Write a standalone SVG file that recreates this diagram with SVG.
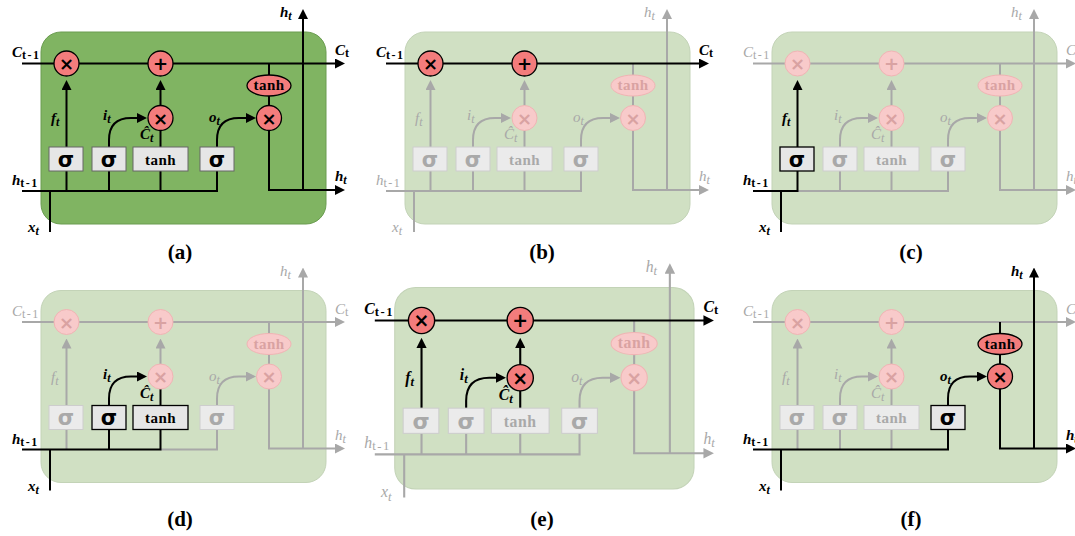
<svg xmlns="http://www.w3.org/2000/svg" width="1075" height="536" viewBox="0 0 1075 536">
<defs>
<marker id="hOn" viewBox="0 0 10 10" refX="1" refY="5" markerWidth="10" markerHeight="10" markerUnits="userSpaceOnUse" orient="auto"><path d="M0,0 L10,5 L0,10 z" fill="#000"/></marker>
<marker id="hOff" viewBox="0 0 10 10" refX="1" refY="5" markerWidth="10" markerHeight="10" markerUnits="userSpaceOnUse" orient="auto"><path d="M0,0 L10,5 L0,10 z" fill="#a8a8a8"/></marker>
</defs>
<style>
.cell.act{fill:#80b462;stroke:#6a9c50;stroke-width:1}
.cell.dim{fill:#d0e0c3;stroke:#c3d3b7;stroke-width:1}
.ln{fill:none;stroke-width:2}
.ln.on{stroke:#000}
.ln.off{stroke:#a8a8a8}
.arr.on{marker-end:url(#hOn)}
.arr.off{marker-end:url(#hOff)}
.op.on circle,.op.on ellipse{fill:#f37c7c;stroke:#000;stroke-width:1.3}
.op.off circle,.op.off ellipse{fill:#f8caca;stroke:#f0b4b4;stroke-width:1}
.op text{font-family:"DejaVu Sans",sans-serif;font-weight:bold;font-size:18px;text-anchor:middle}
.op text.tn{font-family:"Liberation Serif",serif;font-size:15px;letter-spacing:0.5px}
.op.on text{fill:#000}
.op.off text{fill:#d9a2a2}
.bx.on rect{fill:#e6e6e6;stroke:#000;stroke-width:1.3}
#panel-a .bx.on rect{stroke:#666;stroke-width:1}
.bx.off rect{fill:#ebebeb;stroke:#cdcdcd;stroke-width:1}
.bx text{text-anchor:middle;font-weight:bold}
.bx text.sg{font-family:"DejaVu Sans",sans-serif;font-size:21px}
.bx text.tn{font-family:"Liberation Serif",serif;font-size:15px;letter-spacing:0.5px}
.bx.on text{fill:#000}
.bx.off text{fill:#a9a9a9}
.lb{font-family:"Liberation Serif",serif;font-style:italic;font-size:15px}
.lb.on{fill:#000;font-weight:bold}
.lb.off{fill:#a8a8a8}
.s{font-size:12px}
.u{font-style:normal;letter-spacing:1.5px}
.pl{font-family:"Liberation Serif",serif;font-weight:bold;font-size:21px;text-anchor:middle;fill:#000}
</style>
<rect width="1075" height="536" fill="#fff"/>

<!-- ===== Panel (a) ===== -->
<g id="panel-a">
<rect class="cell act" x="41" y="32" width="285" height="192" rx="20"/>
<g id="a-connectors">
<path class="ln on arr" d="M22,63.5 H336"/>
<path class="ln on arr" d="M66.5,147 V89"/>
<path class="ln on arr" d="M109,147 V140 C109,125 116,118 131,118 H138"/>
<path class="ln on" d="M160.5,147 V130.5"/>
<path class="ln on arr" d="M160.5,105.5 V89"/>
<path class="ln on arr" d="M217,147 V140 C217,125 224,118 239,118 H247"/>
<path class="ln on" d="M269,63.5 V75 M269,96 V105.5"/>
<path class="ln on arr" d="M269,130.5 V190 H336"/>
<path class="ln on arr" d="M303,190 V18"/>
<path class="ln on" d="M22,191 H217 V171 M66.5,191 V171 M109,191 V171 M160.5,191 V171 M50,191 V232"/>
</g>
<g id="a-fmul" class="op on"><circle cx="66.5" cy="63.5" r="12.5"/><text x="66.5" y="70">×</text></g>
<g id="a-add" class="op on"><circle cx="160.5" cy="63.5" r="12.5"/><text x="160.5" y="70">+</text></g>
<g id="a-imul" class="op on"><circle cx="160.5" cy="118" r="12.5"/><text x="160.5" y="124.5">×</text></g>
<g id="a-omul" class="op on"><circle cx="269" cy="118" r="12.5"/><text x="269" y="124.5">×</text></g>
<g id="a-ctanh" class="op on"><ellipse cx="269" cy="85.5" rx="22" ry="10.5"/><text class="tn" x="269" y="90">tanh</text></g>
<g id="a-fgate" class="bx on"><rect x="49" y="147" width="34" height="24"/><text class="sg" x="66" y="166.5">σ</text></g>
<g id="a-igate" class="bx on"><rect x="92" y="147" width="34" height="24"/><text class="sg" x="109" y="166.5">σ</text></g>
<g id="a-cand" class="bx on"><rect x="133" y="147" width="55" height="24"/><text class="tn" x="160.5" y="164.5">tanh</text></g>
<g id="a-ogate" class="bx on"><rect x="200" y="147" width="34" height="24"/><text class="sg" x="217" y="166.5">σ</text></g>
<g id="a-labels">
<text class="lb on" x="12" y="57">C<tspan class="s u" dy="2">t-1</tspan></text>
<text class="lb on" x="335" y="55">C<tspan class="s u" dy="2">t</tspan></text>
<text class="lb on" x="280" y="17">h<tspan class="s" dy="3">t</tspan></text>
<text class="lb on" x="335" y="181">h<tspan class="s" dy="3">t</tspan></text>
<text class="lb on" x="12" y="185">h<tspan class="s u" dy="2">t-1</tspan></text>
<text class="lb on" x="28" y="232">x<tspan class="s" dy="3">t</tspan></text>
<text class="lb on" x="51" y="123">f<tspan class="s" dy="3">t</tspan></text>
<text class="lb on" x="103" y="120">i<tspan class="s" dy="3">t</tspan></text>
<text class="lb on" x="140" y="139">Ĉ<tspan class="s" dy="3">t</tspan></text>
<text class="lb on" x="209" y="122">o<tspan class="s" dy="3">t</tspan></text>
</g>
</g>

<!-- ===== Panel (b) ===== -->
<g id="panel-b" transform="translate(364,0)">
<rect class="cell dim" x="41" y="32" width="285" height="192" rx="20"/>
<g id="b-connectors">
<path class="ln off arr" d="M66.5,147 V89"/>
<path class="ln off arr" d="M109,147 V140 C109,125 116,118 131,118 H138"/>
<path class="ln off" d="M160.5,147 V130.5"/>
<path class="ln off arr" d="M160.5,105.5 V89"/>
<path class="ln off arr" d="M217,147 V140 C217,125 224,118 239,118 H247"/>
<path class="ln off" d="M269,63.5 V75 M269,96 V105.5"/>
<path class="ln off arr" d="M269,130.5 V190 H336"/>
<path class="ln off arr" d="M303,190 V18"/>
<path class="ln off" d="M22,191 H217 V171 M66.5,191 V171 M109,191 V171 M160.5,191 V171 M50,191 V232"/>
<path class="ln on arr" d="M22,63.5 H336"/>
</g>
<g id="b-fmul" class="op on"><circle cx="66.5" cy="63.5" r="12.5"/><text x="66.5" y="70">×</text></g>
<g id="b-add" class="op on"><circle cx="160.5" cy="63.5" r="12.5"/><text x="160.5" y="70">+</text></g>
<g id="b-imul" class="op off"><circle cx="160.5" cy="118" r="12.5"/><text x="160.5" y="124.5">×</text></g>
<g id="b-omul" class="op off"><circle cx="269" cy="118" r="12.5"/><text x="269" y="124.5">×</text></g>
<g id="b-ctanh" class="op off"><ellipse cx="269" cy="85.5" rx="22" ry="10.5"/><text class="tn" x="269" y="90">tanh</text></g>
<g id="b-fgate" class="bx off"><rect x="49" y="147" width="34" height="24"/><text class="sg" x="66" y="166.5">σ</text></g>
<g id="b-igate" class="bx off"><rect x="92" y="147" width="34" height="24"/><text class="sg" x="109" y="166.5">σ</text></g>
<g id="b-cand" class="bx off"><rect x="133" y="147" width="55" height="24"/><text class="tn" x="160.5" y="164.5">tanh</text></g>
<g id="b-ogate" class="bx off"><rect x="200" y="147" width="34" height="24"/><text class="sg" x="217" y="166.5">σ</text></g>
<g id="b-labels">
<text class="lb on" x="12" y="57">C<tspan class="s u" dy="2">t-1</tspan></text>
<text class="lb on" x="335" y="55">C<tspan class="s u" dy="2">t</tspan></text>
<text class="lb off" x="280" y="17">h<tspan class="s" dy="3">t</tspan></text>
<text class="lb off" x="335" y="181">h<tspan class="s" dy="3">t</tspan></text>
<text class="lb off" x="12" y="185">h<tspan class="s u" dy="2">t-1</tspan></text>
<text class="lb off" x="28" y="232">x<tspan class="s" dy="3">t</tspan></text>
<text class="lb off" x="51" y="123">f<tspan class="s" dy="3">t</tspan></text>
<text class="lb off" x="103" y="120">i<tspan class="s" dy="3">t</tspan></text>
<text class="lb off" x="140" y="139">Ĉ<tspan class="s" dy="3">t</tspan></text>
<text class="lb off" x="209" y="122">o<tspan class="s" dy="3">t</tspan></text>
</g>
</g>

<!-- ===== Panel (c) ===== -->
<g id="panel-c" transform="translate(731,0)">
<rect class="cell dim" x="41" y="32" width="285" height="192" rx="20"/>
<g id="c-connectors">
<path class="ln off arr" d="M22,63.5 H336"/>
<path class="ln off arr" d="M109,147 V140 C109,125 116,118 131,118 H138"/>
<path class="ln off" d="M160.5,147 V130.5"/>
<path class="ln off arr" d="M160.5,105.5 V89"/>
<path class="ln off arr" d="M217,147 V140 C217,125 224,118 239,118 H247"/>
<path class="ln off" d="M269,63.5 V75 M269,96 V105.5"/>
<path class="ln off arr" d="M269,130.5 V190 H336"/>
<path class="ln off arr" d="M303,190 V18"/>
<path class="ln off" d="M66.5,191 H217 V171 M109,191 V171 M160.5,191 V171"/>
<path class="ln on arr" d="M66.5,147 V89"/>
<path class="ln on" d="M22,191 H66.5 V171 M50,191 V232"/>
</g>
<g id="c-fmul" class="op off"><circle cx="66.5" cy="63.5" r="12.5"/><text x="66.5" y="70">×</text></g>
<g id="c-add" class="op off"><circle cx="160.5" cy="63.5" r="12.5"/><text x="160.5" y="70">+</text></g>
<g id="c-imul" class="op off"><circle cx="160.5" cy="118" r="12.5"/><text x="160.5" y="124.5">×</text></g>
<g id="c-omul" class="op off"><circle cx="269" cy="118" r="12.5"/><text x="269" y="124.5">×</text></g>
<g id="c-ctanh" class="op off"><ellipse cx="269" cy="85.5" rx="22" ry="10.5"/><text class="tn" x="269" y="90">tanh</text></g>
<g id="c-fgate" class="bx on"><rect x="49" y="147" width="34" height="24"/><text class="sg" x="66" y="166.5">σ</text></g>
<g id="c-igate" class="bx off"><rect x="92" y="147" width="34" height="24"/><text class="sg" x="109" y="166.5">σ</text></g>
<g id="c-cand" class="bx off"><rect x="133" y="147" width="55" height="24"/><text class="tn" x="160.5" y="164.5">tanh</text></g>
<g id="c-ogate" class="bx off"><rect x="200" y="147" width="34" height="24"/><text class="sg" x="217" y="166.5">σ</text></g>
<g id="c-labels">
<text class="lb off" x="12" y="57">C<tspan class="s u" dy="2">t-1</tspan></text>
<text class="lb off" x="335" y="55">C<tspan class="s u" dy="2">t</tspan></text>
<text class="lb off" x="280" y="17">h<tspan class="s" dy="3">t</tspan></text>
<text class="lb off" x="335" y="181">h<tspan class="s" dy="3">t</tspan></text>
<text class="lb on" x="12" y="185">h<tspan class="s u" dy="2">t-1</tspan></text>
<text class="lb on" x="28" y="232">x<tspan class="s" dy="3">t</tspan></text>
<text class="lb on" x="51" y="123">f<tspan class="s" dy="3">t</tspan></text>
<text class="lb off" x="103" y="120">i<tspan class="s" dy="3">t</tspan></text>
<text class="lb off" x="140" y="139">Ĉ<tspan class="s" dy="3">t</tspan></text>
<text class="lb off" x="209" y="122">o<tspan class="s" dy="3">t</tspan></text>
</g>
</g>

<!-- ===== Panel (d) ===== -->
<g id="panel-d" transform="translate(0,258.5)">
<rect class="cell dim" x="41" y="32" width="285" height="192" rx="20"/>
<g id="d-connectors">
<path class="ln off arr" d="M22,63.5 H336"/>
<path class="ln off arr" d="M66.5,147 V89"/>
<path class="ln off arr" d="M160.5,105.5 V89"/>
<path class="ln off arr" d="M217,147 V140 C217,125 224,118 239,118 H247"/>
<path class="ln off" d="M269,63.5 V75 M269,96 V105.5"/>
<path class="ln off arr" d="M269,130.5 V190 H336"/>
<path class="ln off arr" d="M303,190 V18"/>
<path class="ln off" d="M160.5,191 H217 V171 M66.5,191 V171"/>
<path class="ln on arr" d="M109,147 V140 C109,125 116,118 131,118 H138"/>
<path class="ln on" d="M160.5,147 V130.5"/>
<path class="ln on" d="M22,191 H160.5 V171 M109,191 V171 M50,191 V232"/>
</g>
<g id="d-fmul" class="op off"><circle cx="66.5" cy="63.5" r="12.5"/><text x="66.5" y="70">×</text></g>
<g id="d-add" class="op off"><circle cx="160.5" cy="63.5" r="12.5"/><text x="160.5" y="70">+</text></g>
<g id="d-imul" class="op off"><circle cx="160.5" cy="118" r="12.5"/><text x="160.5" y="124.5">×</text></g>
<g id="d-omul" class="op off"><circle cx="269" cy="118" r="12.5"/><text x="269" y="124.5">×</text></g>
<g id="d-ctanh" class="op off"><ellipse cx="269" cy="85.5" rx="22" ry="10.5"/><text class="tn" x="269" y="90">tanh</text></g>
<g id="d-fgate" class="bx off"><rect x="49" y="147" width="34" height="24"/><text class="sg" x="66" y="166.5">σ</text></g>
<g id="d-igate" class="bx on"><rect x="92" y="147" width="34" height="24"/><text class="sg" x="109" y="166.5">σ</text></g>
<g id="d-cand" class="bx on"><rect x="133" y="147" width="55" height="24"/><text class="tn" x="160.5" y="164.5">tanh</text></g>
<g id="d-ogate" class="bx off"><rect x="200" y="147" width="34" height="24"/><text class="sg" x="217" y="166.5">σ</text></g>
<g id="d-labels">
<text class="lb off" x="12" y="57">C<tspan class="s u" dy="2">t-1</tspan></text>
<text class="lb off" x="335" y="55">C<tspan class="s u" dy="2">t</tspan></text>
<text class="lb off" x="280" y="17">h<tspan class="s" dy="3">t</tspan></text>
<text class="lb off" x="335" y="181">h<tspan class="s" dy="3">t</tspan></text>
<text class="lb on" x="12" y="185">h<tspan class="s u" dy="2">t-1</tspan></text>
<text class="lb on" x="28" y="232">x<tspan class="s" dy="3">t</tspan></text>
<text class="lb off" x="51" y="123">f<tspan class="s" dy="3">t</tspan></text>
<text class="lb on" x="103" y="120">i<tspan class="s" dy="3">t</tspan></text>
<text class="lb on" x="140" y="139">Ĉ<tspan class="s" dy="3">t</tspan></text>
<text class="lb off" x="209" y="122">o<tspan class="s" dy="3">t</tspan></text>
</g>
</g>

<!-- ===== Panel (e) ===== -->
<g id="panel-e" transform="translate(351.7,253.8) scale(1.05)">
<rect class="cell dim" x="41" y="32" width="285" height="192" rx="20"/>
<g id="e-connectors">
<path class="ln off arr" d="M217,147 V140 C217,125 224,118 239,118 H247"/>
<path class="ln off" d="M269,63.5 V75 M269,96 V105.5"/>
<path class="ln off arr" d="M269,130.5 V190 H336"/>
<path class="ln off arr" d="M303,190 V18"/>
<path class="ln off" d="M22,191 H217 V171 M66.5,191 V171 M109,191 V171 M160.5,191 V171 M50,191 V232"/>
<path class="ln on arr" d="M22,63.5 H336"/>
<path class="ln on arr" d="M66.5,147 V89"/>
<path class="ln on arr" d="M109,147 V140 C109,125 116,118 131,118 H138"/>
<path class="ln on" d="M160.5,147 V130.5"/>
<path class="ln on arr" d="M160.5,105.5 V89"/>
</g>
<g id="e-fmul" class="op on"><circle cx="66.5" cy="63.5" r="12.5"/><text x="66.5" y="70">×</text></g>
<g id="e-add" class="op on"><circle cx="160.5" cy="63.5" r="12.5"/><text x="160.5" y="70">+</text></g>
<g id="e-imul" class="op on"><circle cx="160.5" cy="118" r="12.5"/><text x="160.5" y="124.5">×</text></g>
<g id="e-omul" class="op off"><circle cx="269" cy="118" r="12.5"/><text x="269" y="124.5">×</text></g>
<g id="e-ctanh" class="op off"><ellipse cx="269" cy="85.5" rx="22" ry="10.5"/><text class="tn" x="269" y="90">tanh</text></g>
<g id="e-fgate" class="bx off"><rect x="49" y="147" width="34" height="24"/><text class="sg" x="66" y="166.5">σ</text></g>
<g id="e-igate" class="bx off"><rect x="92" y="147" width="34" height="24"/><text class="sg" x="109" y="166.5">σ</text></g>
<g id="e-cand" class="bx off"><rect x="133" y="147" width="55" height="24"/><text class="tn" x="160.5" y="164.5">tanh</text></g>
<g id="e-ogate" class="bx off"><rect x="200" y="147" width="34" height="24"/><text class="sg" x="217" y="166.5">σ</text></g>
<g id="e-labels">
<text class="lb on" x="12" y="57">C<tspan class="s u" dy="2">t-1</tspan></text>
<text class="lb on" x="335" y="55">C<tspan class="s u" dy="2">t</tspan></text>
<text class="lb off" x="280" y="17">h<tspan class="s" dy="3">t</tspan></text>
<text class="lb off" x="335" y="181">h<tspan class="s" dy="3">t</tspan></text>
<text class="lb off" x="12" y="185">h<tspan class="s u" dy="2">t-1</tspan></text>
<text class="lb off" x="28" y="232">x<tspan class="s" dy="3">t</tspan></text>
<text class="lb on" x="51" y="123">f<tspan class="s" dy="3">t</tspan></text>
<text class="lb on" x="103" y="120">i<tspan class="s" dy="3">t</tspan></text>
<text class="lb on" x="140" y="139">Ĉ<tspan class="s" dy="3">t</tspan></text>
<text class="lb off" x="209" y="122">o<tspan class="s" dy="3">t</tspan></text>
</g>
</g>

<!-- ===== Panel (f) ===== -->
<g id="panel-f" transform="translate(731,258.5)">
<rect class="cell dim" x="41" y="32" width="285" height="192" rx="20"/>
<g id="f-connectors">
<path class="ln off arr" d="M22,63.5 H336"/>
<path class="ln off arr" d="M66.5,147 V89"/>
<path class="ln off arr" d="M109,147 V140 C109,125 116,118 131,118 H138"/>
<path class="ln off" d="M160.5,147 V130.5"/>
<path class="ln off arr" d="M160.5,105.5 V89"/>
<path class="ln off" d="M66.5,191 V171 M109,191 V171 M160.5,191 V171"/>
<path class="ln on arr" d="M217,147 V140 C217,125 224,118 239,118 H247"/>
<path class="ln on" d="M269,63.5 V75 M269,96 V105.5"/>
<path class="ln on arr" d="M269,130.5 V190 H336"/>
<path class="ln on arr" d="M303,190 V18"/>
<path class="ln on" d="M22,191 H217 V171 M50,191 V232"/>
</g>
<g id="f-fmul" class="op off"><circle cx="66.5" cy="63.5" r="12.5"/><text x="66.5" y="70">×</text></g>
<g id="f-add" class="op off"><circle cx="160.5" cy="63.5" r="12.5"/><text x="160.5" y="70">+</text></g>
<g id="f-imul" class="op off"><circle cx="160.5" cy="118" r="12.5"/><text x="160.5" y="124.5">×</text></g>
<g id="f-omul" class="op on"><circle cx="269" cy="118" r="12.5"/><text x="269" y="124.5">×</text></g>
<g id="f-ctanh" class="op on"><ellipse cx="269" cy="85.5" rx="22" ry="10.5"/><text class="tn" x="269" y="90">tanh</text></g>
<g id="f-fgate" class="bx off"><rect x="49" y="147" width="34" height="24"/><text class="sg" x="66" y="166.5">σ</text></g>
<g id="f-igate" class="bx off"><rect x="92" y="147" width="34" height="24"/><text class="sg" x="109" y="166.5">σ</text></g>
<g id="f-cand" class="bx off"><rect x="133" y="147" width="55" height="24"/><text class="tn" x="160.5" y="164.5">tanh</text></g>
<g id="f-ogate" class="bx on"><rect x="200" y="147" width="34" height="24"/><text class="sg" x="217" y="166.5">σ</text></g>
<g id="f-labels">
<text class="lb off" x="12" y="57">C<tspan class="s u" dy="2">t-1</tspan></text>
<text class="lb off" x="335" y="55">C<tspan class="s u" dy="2">t</tspan></text>
<text class="lb on" x="280" y="17">h<tspan class="s" dy="3">t</tspan></text>
<text class="lb on" x="335" y="181">h<tspan class="s" dy="3">t</tspan></text>
<text class="lb on" x="12" y="185">h<tspan class="s u" dy="2">t-1</tspan></text>
<text class="lb on" x="28" y="232">x<tspan class="s" dy="3">t</tspan></text>
<text class="lb off" x="51" y="123">f<tspan class="s" dy="3">t</tspan></text>
<text class="lb off" x="103" y="120">i<tspan class="s" dy="3">t</tspan></text>
<text class="lb off" x="140" y="139">Ĉ<tspan class="s" dy="3">t</tspan></text>
<text class="lb on" x="209" y="122">o<tspan class="s" dy="3">t</tspan></text>
</g>
</g>

<g id="captions">
<text class="pl" x="180" y="259">(a)</text>
<text class="pl" x="542" y="259">(b)</text>
<text class="pl" x="911" y="259">(c)</text>
<text class="pl" x="180" y="526">(d)</text>
<text class="pl" x="542" y="526">(e)</text>
<text class="pl" x="911" y="526">(f)</text>
</g>
</svg>
